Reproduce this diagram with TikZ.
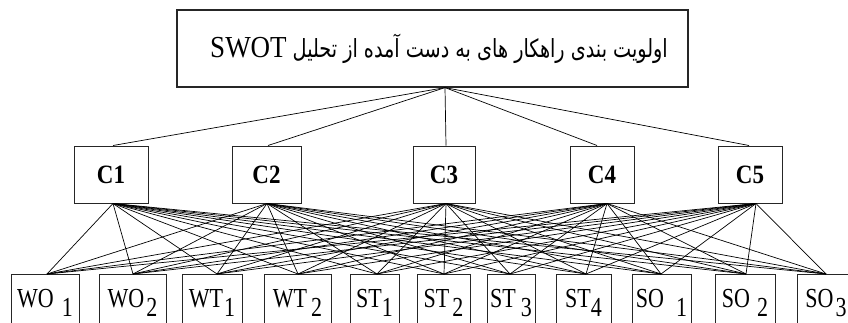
\documentclass[tikz,border=0pt]{standalone}
\usepackage{fontspec}
\setmainfont{Liberation Serif}
\newfontfamily\arabicfont[Script=Arabic]{DejaVu Sans}
\TeXXeTstate=1
\usepackage{graphicx}
\newcommand{\altlab}[3]{\scalebox{1}[1.25]{#1\hspace{#3pt}\lower7.5pt\hbox{#2}}}
\newcommand{\critlab}[1]{\scalebox{1}[1.15]{#1}}
\begin{document}
\begin{tikzpicture}[x=1pt,y=-1pt,
  box/.style={draw=black!85,line width=1pt,inner sep=0pt},
  crit/.style={box,minimum height=57pt,font=\fontsize{23}{26}\selectfont\bfseries},
  alt/.style={box,anchor=north,text height=20pt,text depth=20pt,inner ysep=13pt,font=\fontsize{22}{24}\selectfont},
  link/.style={line width=0.7pt,black}]
\useasboundingbox (0,0) rectangle (848,322);
\clip (0,0) rectangle (848,322);
% goal
\node[box,line width=1.2pt,minimum width=511pt,minimum height=77pt] (goal) at (432.5,48.5)
  {\hspace*{13pt}\raisebox{4pt}{\scalebox{1}[1.13]{\fontsize{27}{30}\selectfont SWOT}}\hspace{6pt}\raisebox{4pt}{\scalebox{1}[1.3]{\resizebox{375pt}{!}{\arabicfont\beginR اولویت بندی راهکار های به دست آمده از تحلیل\endR}}}};
% criteria
\node[crit,minimum width=74pt] (c1) at (111,174.5) {\critlab{C1}};
\node[crit,minimum width=69pt] (c2) at (266.5,174.5) {\critlab{C2}};
\node[crit,minimum width=62pt] (c3) at (444,174.5) {\critlab{C3}};
\node[crit,minimum width=64pt] (c4) at (602,174.5) {\critlab{C4}};
\node[crit,minimum width=64pt] (c5) at (750,174.5) {\critlab{C5}};
% alternatives
\node[alt,minimum width=68pt] (wo1) at (45,274) {\altlab{WO}{1}{8}};
\node[alt,minimum width=67pt] (wo2) at (132.5,274) {\altlab{WO}{2}{2}};
\node[alt,minimum width=60pt] (wt1) at (212,274) {\altlab{WT}{1}{1}};
\node[alt,minimum width=67pt] (wt2) at (297.5,274) {\altlab{WT}{2}{4}};
\node[alt,minimum width=49pt] (st1) at (374.5,274) {\altlab{ST}{1}{0}};
\node[alt,minimum width=53pt] (st2) at (443.5,274) {\altlab{ST}{2}{3}};
\node[alt,minimum width=48pt] (st3) at (511,274) {\altlab{ST}{3}{5}};
\node[alt,minimum width=55pt] (st4) at (583.5,274) {\altlab{ST}{4}{0}};
\node[alt,minimum width=59pt] (so1) at (661.5,274) {\altlab{SO}{1}{12}};
\node[alt,minimum width=60pt] (so2) at (745,274) {\altlab{SO}{2}{7}};
\node[alt,minimum width=58pt] (so3) at (826,274) {\altlab{SO}{3}{2}};
% goal to criteria
\foreach \c/\dx in {c1/2,c2/1.5,c3/2,c4/-5,c5/-1}
  \draw[link] ([xshift=12.5pt]goal.south) -- ([xshift=\dx pt]\c.north);
% criteria to alternatives
\foreach \c/\cx in {c1/2,c2/0.5,c3/2,c4/5,c5/6}
  \foreach \a/\ax in {wo1/2,wo2/0.5,wt1/5,wt2/0.5,st1/2.5,st2/0.5,st3/-1,st4/2.5,so1/-0.5,so2/1,so3/0}
    \draw[link] ([xshift=\cx pt]\c.south) -- ([xshift=\ax pt]\a.north);
\end{tikzpicture}
\end{document}
